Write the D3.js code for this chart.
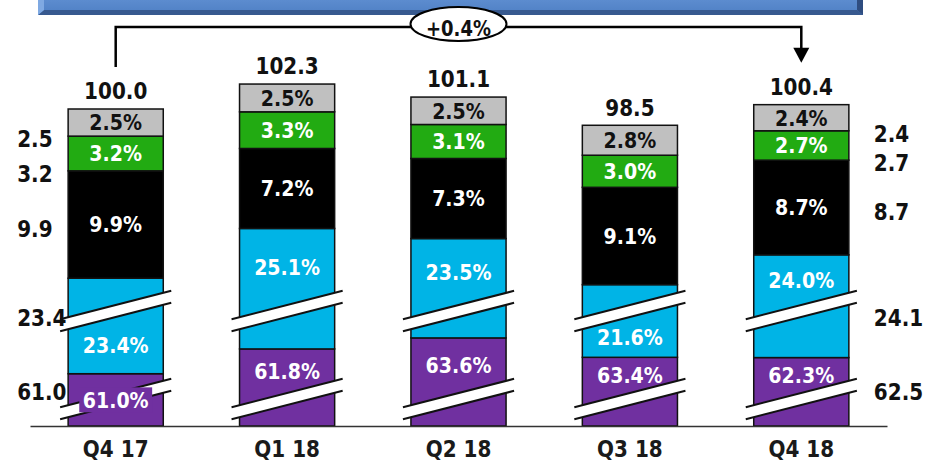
<!DOCTYPE html>
<html>
<head>
<meta charset="utf-8">
<script src="https://cdn.jsdelivr.net/npm/d3@7"></script>
<style>
  html, body { margin: 0; padding: 0; background: #fff; }
  svg { display: block; }
  text { font-family: "DejaVu Sans", Verdana, sans-serif; font-weight: bold; }
</style>
</head>
<body>
<div id="chart"></div>
<script>
// ---- data (shares in %, bottom segment first) ----
const quarters = ['Q4 17', 'Q1 18', 'Q2 18', 'Q3 18', 'Q4 18'];
const totals = [100.0, 102.3, 101.1, 98.5, 100.4];
const seg1Share = [61.0, 61.8, 63.6, 63.4, 62.3];   // purple
const seg2Share = [23.4, 25.1, 23.5, 21.6, 24.0];   // cyan
const seg3Share = [9.9, 7.2, 7.3, 9.1, 8.7];        // black
const seg4Share = [3.2, 3.3, 3.1, 3.0, 2.7];        // green
const seg5Share = [2.5, 2.5, 2.5, 2.8, 2.4];        // grey
const firstAbs = [61.0, 23.4, 9.9, 3.2, 2.5];       // left of Q4 17
const lastAbs = [62.5, 24.1, 8.7, 2.7, 2.4];        // right of Q4 18
const changeLabel = '+0.4%';

const keys = ['seg1', 'seg2', 'seg3', 'seg4', 'seg5'];
const shares = [seg1Share, seg2Share, seg3Share, seg4Share, seg5Share];
const colors = ['#7030a0', '#00b4e6', '#000000', '#22ab12', '#c0c0c0'];
const textColors = ['#fff', '#fff', '#fff', '#fff', '#111'];

const width = 926, height = 461;
const baseY = 426;
const SY = 1.15;            // vertical stretch of the lettering
const CUT = 14.6;           // value hidden by the axis break
const CUT_AT = 75;
const BREAKS = [311, 399];  // break bands (px, at bar centre)
const GAP = 12, SLOPE = -0.255, OVER = 8;

// rows of absolute values, each bar summing to its total
const rows = quarters.map((q, i) => {
  const sum = d3.sum(shares, s => s[i]);
  const row = { quarter: q, total: totals[i] };
  keys.forEach((k, j) => row[k] = shares[j][i] / sum * totals[i]);
  return row;
});
const stacked = d3.stack().keys(keys)(rows);

const svg = d3.select('#chart').append('svg')
  .attr('width', width)
  .attr('height', height);

const x = d3.scaleBand()
  .domain(quarters)
  .range([30, 887])
  .paddingInner(0.445)
  .paddingOuter(0.2225);

const y = d3.scaleLinear()
  .domain([70.78, 105])
  .range([baseY, 54.76])
  .clamp(true);
// broken scale: values below the break are pulled up by CUT
const yb = v => y(v < CUT_AT ? v + CUT : v);

function label(g, cx, cy, txt, size, fill, anchor) {
  return g.append('text')
    .attr('transform', `translate(${cx},${cy}) scale(1,${SY})`)
    .attr('dy', '0.36em')
    .attr('text-anchor', anchor || 'middle')
    .attr('font-size', size)
    .attr('fill', fill)
    .text(txt);
}

// ---- banner at the top ----
const defs = svg.append('defs');
const grad = defs.append('linearGradient').attr('id', 'bannerGrad')
  .attr('x1', 0).attr('y1', 0).attr('x2', 0).attr('y2', 1);
grad.append('stop').attr('offset', '0%').attr('stop-color', '#6f9ddd');
grad.append('stop').attr('offset', '100%').attr('stop-color', '#4e7fc4');
const banner = svg.append('g');
banner.append('rect').attr('x', 38).attr('y', -20).attr('width', 825).attr('height', 35)
  .attr('fill', 'url(#bannerGrad)');
banner.append('polygon').attr('points', '38,15 863,15 857,10 44,10').attr('fill', '#37598f');
banner.append('polygon').attr('points', '863,-5 863,15 857,10 857,-5').attr('fill', '#2f4d80');
banner.append('polygon').attr('points', '38,-5 38,15 44,10 44,-5').attr('fill', '#7fa9e2');

// ---- bars ----
const bars = svg.append('g');
stacked.forEach((s, j) => {
  bars.selectAll(null)
    .data(s)
    .join('rect')
    .attr('x', d => x(d.data.quarter))
    .attr('y', d => yb(d[1]))
    .attr('width', x.bandwidth())
    .attr('height', d => yb(d[0]) - yb(d[1]))
    .attr('fill', colors[j])
    .attr('stroke', '#111')
    .attr('stroke-width', 1.5);
});

// ---- axis ----
const axis = svg.append('g')
  .attr('transform', `translate(0,${baseY})`)
  .call(d3.axisBottom(x).tickSize(0).tickSizeOuter(0));
axis.select('.domain').attr('stroke', '#333').attr('stroke-width', 1.5);
axis.selectAll('.tick text')
  .attr('y', 0).attr('dy', '0.36em')
  .attr('transform', `translate(0,22.5) scale(1,${SY})`)
  .attr('font-size', 20)
  .attr('font-family', '"DejaVu Sans", Verdana, sans-serif')
  .attr('font-weight', 'bold')
  .attr('fill', '#1a1a1a');

// ---- break marks ----
const breaks = svg.append('g');
quarters.forEach(q => {
  const x0 = x(q) - OVER, x1 = x(q) + x.bandwidth() + OVER;
  const cx = x(q) + x.bandwidth() / 2;
  BREAKS.forEach(b => {
    const at = (xx, off) => b + off + SLOPE * (xx - cx);
    breaks.append('polygon')
      .attr('points', [[x0, at(x0, -GAP / 2)], [x1, at(x1, -GAP / 2)], [x1, at(x1, GAP / 2)], [x0, at(x0, GAP / 2)]].join(' '))
      .attr('fill', '#fff');
    [-GAP / 2, GAP / 2].forEach(off => {
      breaks.append('line')
        .attr('x1', x0).attr('y1', at(x0, off))
        .attr('x2', x1).attr('y2', at(x1, off))
        .attr('stroke', '#111').attr('stroke-width', 2);
    });
  });
});

// ---- labels inside the bars ----
function placeLabel(top, bottom) {
  const br = BREAKS.find(b => b > top && b < bottom);
  if (br === undefined) return { y: (top + bottom) / 2, bg: false };
  const up = [top, br - GAP / 2], low = [br + GAP / 2, bottom];
  if (up[1] - up[0] >= 30) return { y: (up[0] + up[1]) / 2, bg: false };
  if (low[1] - low[0] >= 30) return { y: (low[0] + low[1]) / 2, bg: false };
  return { y: (top + bottom) / 2, bg: true };
}

const inner = svg.append('g');
stacked.forEach((s, j) => {
  s.forEach((d, i) => {
    const top = yb(d[1]), bottom = yb(d[0]);
    const cx = x(d.data.quarter) + x.bandwidth() / 2;
    const p = placeLabel(top, bottom);
    const txt = shares[j][i].toFixed(1) + '%';
    const bg = inner.append('rect');
    const t = label(inner, cx, p.y, txt, 19, textColors[j]);
    if (p.bg) {
      const w = t.node().getComputedTextLength() + 7;
      bg.attr('x', cx - w / 2).attr('y', p.y - 12.5)
        .attr('width', w).attr('height', 25)
        .attr('fill', colors[j]);
      t.raise();
    } else {
      bg.remove();
    }
  });
});

// ---- totals above the bars ----
const totalY = d => y(d.total) - 18;
const tot = svg.append('g');
rows.forEach(d => {
  label(tot, x(d.quarter) + x.bandwidth() / 2, totalY(d), d.total.toFixed(1), 20, '#111');
});

// ---- side values for first and last bar ----
function sideY(j, top, bottom) {
  if (j === 0) return BREAKS[1] - 7;
  if (j === 1) return BREAKS[0] + 7;
  if (j === 2) return (top + bottom) / 2 + 4;
  return bottom + 3;
}
const side = svg.append('g');
const firstQ = quarters[0], lastQ = quarters[quarters.length - 1];
stacked.forEach((s, j) => {
  const a = s[0], b = s[s.length - 1];
  label(side, x(firstQ) - 51, sideY(j, yb(a[1]), yb(a[0])), firstAbs[j].toFixed(1), 20, '#111', 'start');
  label(side, x(lastQ) + x.bandwidth() + 25, sideY(j, yb(b[1]), yb(b[0])), lastAbs[j].toFixed(1), 20, '#111', 'start');
});

// ---- change bracket ----
const bx0 = x(firstQ) + x.bandwidth() / 2;
const bx1 = x(lastQ) + x.bandwidth() / 2;
const by = 27;
const yStart = totalY(rows[0]) - 24;
const yTip = totalY(rows[rows.length - 1]) - 24;
const br = svg.append('g');
br.append('path')
  .attr('d', `M${bx0},${yStart}V${by}H${bx1}V${yTip - 14}`)
  .attr('fill', 'none').attr('stroke', '#000').attr('stroke-width', 2.5);
br.append('path')
  .attr('d', `M${bx1 - 8},${yTip - 15}L${bx1 + 8},${yTip - 15}L${bx1},${yTip}Z`)
  .attr('fill', '#000');
const mx = (bx0 + bx1) / 2;
br.append('ellipse')
  .attr('cx', mx).attr('cy', 24).attr('rx', 48).attr('ry', 17)
  .attr('fill', '#fff').attr('stroke', '#000').attr('stroke-width', 2);
label(br, mx, 29, changeLabel, 18, '#111');
</script>
</body>
</html>
